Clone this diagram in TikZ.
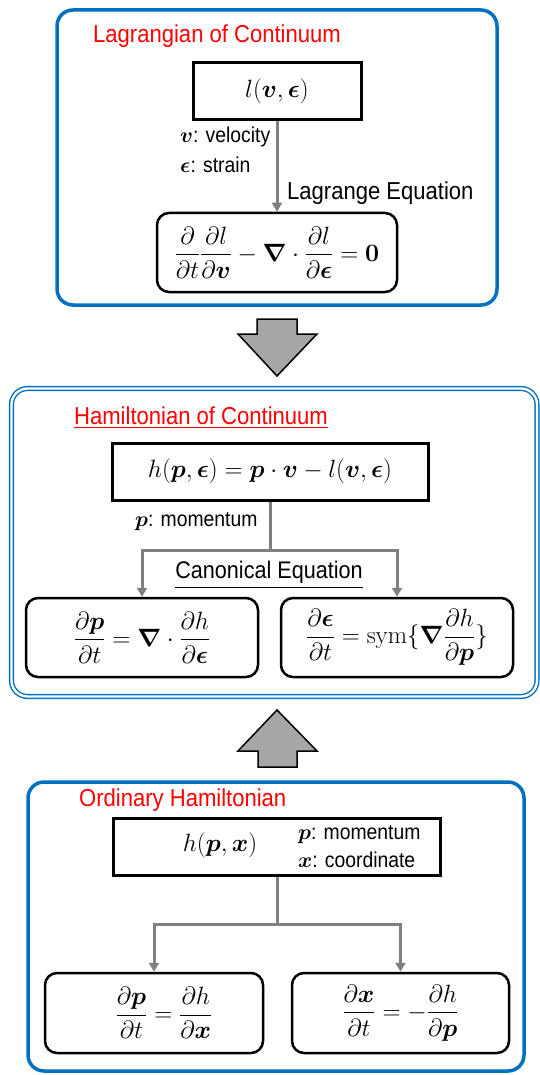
\documentclass[tikz,border=0pt]{standalone}
\usepackage{fix-cm}
\usepackage{amsmath}
\usepackage{bm}
\usepackage[no-math]{fontspec}
\setmainfont{Liberation Sans}[FakeStretch=0.9]
\usepackage{tikz}
\usetikzlibrary{calc, positioning, arrows.meta}
\definecolor{frameBlue}{HTML}{0070C0}
\definecolor{titleRed}{HTML}{FF0000}
\definecolor{linkGray}{HTML}{808080}
\definecolor{bigArrowGray}{HTML}{A6A6A6}

\begin{document}
\begin{tikzpicture}[x=1pt, y=-1pt,
    panel/.style={draw=frameBlue, line width=3.5pt, rounded corners=16pt},
    title/.style={anchor=west, inner sep=0pt, text=titleRed, font=\fontsize{24.5}{28}\selectfont},
    note/.style={anchor=west, inner sep=0pt, font=\fontsize{21.5}{25}\selectfont},
    funcbox/.style={draw, line width=3pt, minimum height=57pt, font=\fontsize{25}{30}\selectfont},
    eqbox/.style={draw, line width=2.5pt, rounded corners=12pt, font=\fontsize{25}{30}\selectfont},
    link/.style={draw=linkGray, line width=3pt},
    tip/.style={-{Triangle[width=10pt,length=9pt]}},
    bigarrow/.style={fill=bigArrowGray, draw=black, line width=1.5pt, line join=miter}]
    \useasboundingbox (0,0) rectangle (540,1075);

    % Lagrangian of continuum
    \draw[panel] (57,10) rectangle (497,305);
    \node[title] (lagtitle) at (93,36) {Lagrangian of Continuum};
    \node[funcbox, minimum width=168pt] (lag) at (277,91.5) {$l(\bm{v},\bm{\epsilon})$};
    \node[eqbox, minimum width=240pt, minimum height=79pt] (lageq) at (277,252.5)
        {$\dfrac{\partial}{\partial t}\dfrac{\partial l}{\partial \bm{v}} - \bm{\nabla}\cdot\dfrac{\partial l}{\partial \bm{\epsilon}} = \mathbf{0}$};
    \draw[link, tip] (lag.south) -- (lageq.north);
    \node[note] (velo) at (180,137) {$\bm{v}$: velocity};
    \node[note] (strain) at (180,165) {$\bm{\epsilon}$: strain};
    \node[note, font=\fontsize{24.5}{28}\selectfont] (lageqlabel) at (287,193) {Lagrange Equation};

    \draw[bigarrow] (257,319) -- (297,319) -- (297,334) -- (317,334) -- (277,376)
        -- (238,334) -- (257,334) -- cycle;

    % Hamiltonian of continuum
    \draw[draw=frameBlue, line width=1.4pt, double=white, double distance=2.4pt, rounded corners=16pt]
        (11.5,388.5) rectangle (537,696.5);
    \node[title] (hamtitle) at (74,418) {\underline{Hamiltonian of Continuum}};
    \node[funcbox, minimum width=316pt] (ham) at (270,471.5)
        {$h(\bm{p},\bm{\epsilon}) = \bm{p}\cdot\bm{v} - l(\bm{v},\bm{\epsilon})$};
    \node[eqbox, minimum width=232pt, minimum height=79pt] (dpdt) at (142,637.5)
        {$\dfrac{\partial \bm{p}}{\partial t} = \bm{\nabla}\cdot\dfrac{\partial h}{\partial \bm{\epsilon}}$};
    \node[eqbox, minimum width=232pt, minimum height=79pt] (dedt) at (397,637.5)
        {$\dfrac{\partial \bm{\epsilon}}{\partial t} = \mathrm{sym}\{\bm{\nabla}\dfrac{\partial h}{\partial \bm{p}}\}$};
    \coordinate (hamsplit) at (270,550);
    \draw[link] (ham.south) -- (hamsplit);
    \draw[link, tip] (hamsplit) -| (dpdt.north);
    \draw[link, tip] (hamsplit) -| (dedt.north);
    \node[note] (momcont) at (135,522) {$\bm{p}$: momentum};
    \node[font=\fontsize{24}{28}\selectfont, inner sep=0pt] (caneq) at (269,575) {\underline{Canonical Equation}};

    \draw[bigarrow] (258,767) -- (297,767) -- (297,751) -- (317,751) -- (277,710)
        -- (238,751) -- (258,751) -- cycle;

    % ordinary Hamiltonian
    \draw[panel] (28,782) rectangle (524,1071);
    \node[title] (ordtitle) at (79,800) {Ordinary Hamiltonian};
    \node[funcbox, minimum width=327pt] (ord) at (276.5,846.5) {};
    \node[font=\fontsize{25}{30}\selectfont, inner sep=0pt] (ordfunc) at (220,845) {$h(\bm{p},\bm{x})$};
    \node[note] (ordmom) at (298,835) {$\bm{p}$: momentum};
    \node[note] (ordcoord) at (298,860) {$\bm{x}$: coordinate};
    \node[eqbox, minimum width=218pt, minimum height=80pt] (dpdtord) at (154,1013)
        {\hspace{20pt}$\dfrac{\partial \bm{p}}{\partial t} = \dfrac{\partial h}{\partial \bm{x}}$};
    \node[eqbox, minimum width=217pt, minimum height=80pt] (dxdt) at (400.5,1013)
        {$\dfrac{\partial \bm{x}}{\partial t} = -\dfrac{\partial h}{\partial \bm{p}}$};
    \coordinate (ordsplit) at (277,924);
    \draw[link] (ord.south -| ordsplit) -- (ordsplit);
    \draw[link, tip] (ordsplit) -| (dpdtord.north);
    \draw[link, tip] (ordsplit) -| (dxdt.north);
\end{tikzpicture}
\end{document}
